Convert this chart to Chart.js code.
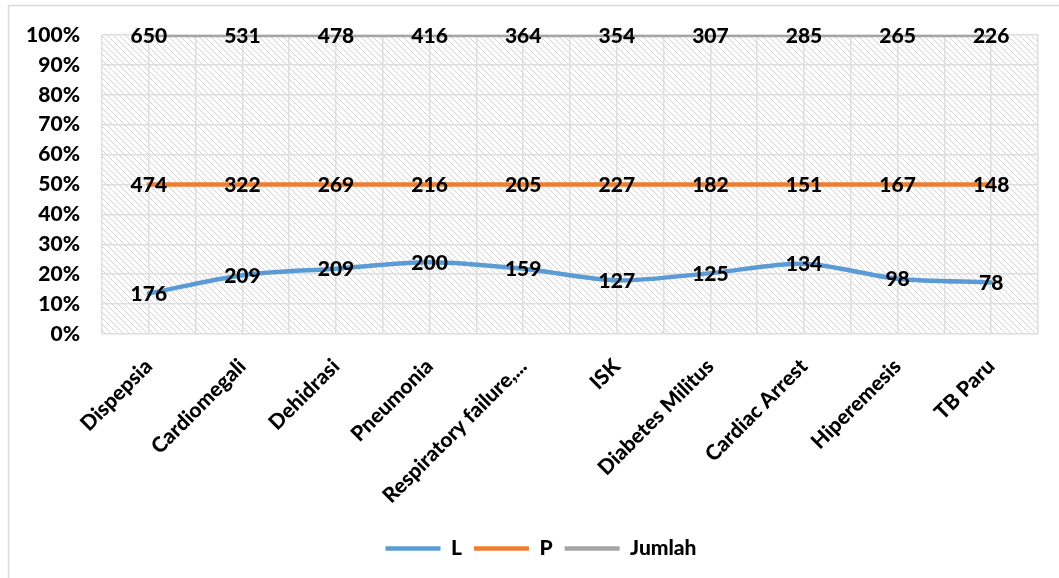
<!DOCTYPE html>
<html>
<head>
<meta charset="utf-8">
<script src="https://cdn.jsdelivr.net/npm/chart.js@4"></script>
<style>
  body { margin: 0; background: #fff; }
  #wrap { width: 1059px; height: 578px; position: relative; }
</style>
</head>
<body>
<div id="wrap"><canvas id="diagChart"></canvas></div>
<script>
// data
const categories = ['Dispepsia', 'Cardiomegali', 'Dehidrasi', 'Pneumonia', 'Respiratory failure,...',
  'ISK', 'Diabetes Militus', 'Cardiac Arrest', 'Hiperemesis', 'TB Paru'];
const lakiLaki = [176, 209, 209, 200, 159, 127, 125, 134, 98, 78];
const perempuan = [474, 322, 269, 216, 205, 227, 182, 151, 167, 148];
const jumlah = [650, 531, 478, 416, 364, 354, 307, 285, 265, 226];
const yTicks = [0, 10, 20, 30, 40, 50, 60, 70, 80, 90, 100];

// 100% stacked: every series as a share of the column total
const totals = categories.map((c, i) => lakiLaki[i] + perempuan[i] + jumlah[i]);
const share = arr => arr.map((v, i) => v / totals[i] * 100);

const FONT = 'Lato, "Open Sans", sans-serif';

// diagonal hatch for the plot area
function makeHatch() {
  const t = document.createElement('canvas');
  t.width = 6; t.height = 6;
  const c = t.getContext('2d');
  c.fillStyle = '#fff';
  c.fillRect(0, 0, 6, 6);
  c.strokeStyle = '#d4d4d4';
  c.lineWidth = 1;
  c.beginPath();
  c.moveTo(-1, -1); c.lineTo(7, 7);
  c.moveTo(-1, 5); c.lineTo(1, 7);
  c.moveTo(5, -1); c.lineTo(7, 1);
  c.stroke();
  return c.createPattern(t, 'repeat');
}

const backdrop = {
  id: 'backdrop',
  afterLayout(chart) {
    // legend sits a little right of centre in the original
    chart.legend.left += 18;
    chart.legend.right += 18;
  },
  beforeDraw(chart) {
    const { ctx, chartArea: a } = chart;
    ctx.save();
    // outer chart frame (only top and left visible in the crop)
    ctx.strokeStyle = '#d9d9d9';
    ctx.lineWidth = 1.5;
    ctx.beginPath();
    ctx.moveTo(8.5, 600); ctx.lineTo(8.5, 5.5); ctx.lineTo(1100, 5.5);
    ctx.stroke();
    ctx.fillStyle = makeHatch();
    ctx.fillRect(a.left, a.top, a.right - a.left, a.bottom - a.top);
    ctx.restore();
  }
};

// raw counts written on top of each point
const valueLabels = {
  id: 'valueLabels',
  afterDatasetsDraw(chart) {
    const { ctx } = chart;
    ctx.save();
    ctx.font = '900 21px ' + FONT;
    ctx.fillStyle = '#000';
    ctx.textAlign = 'center';
    ctx.textBaseline = 'middle';
    chart.data.datasets.forEach((ds, di) => {
      chart.getDatasetMeta(di).data.forEach((pt, i) => {
        ctx.fillText(String(ds.raw[i]), pt.x, pt.y + 1);
      });
    });
    ctx.restore();
  }
};

const tickFont = { family: FONT, size: 21, weight: '900' };

new Chart(document.getElementById('diagChart'), {
  type: 'line',
  data: {
    labels: categories,
    datasets: [
      { label: 'L', raw: lakiLaki, data: share(lakiLaki), borderColor: '#5b9bd5', backgroundColor: '#5b9bd5' },
      { label: 'P', raw: perempuan, data: share(perempuan), borderColor: '#ed7d31', backgroundColor: '#ed7d31' },
      { label: 'Jumlah', raw: jumlah, data: share(jumlah), borderColor: '#a5a5a5', backgroundColor: '#a5a5a5' }
    ].map(d => Object.assign(d, {
      borderWidth: 4.5, pointRadius: 0, tension: 0.3, fill: false,
      borderCapStyle: 'round', pointStyle: 'line'
    }))
  },
  options: {
    responsive: true,
    maintainAspectRatio: false,
    animation: false,
    layout: { padding: { left: 8, top: 35, right: 21, bottom: 9 } },
    scales: {
      x: {
        type: 'category',
        offset: true,
        grid: { display: false },
        border: { display: false },
        ticks: {
          maxRotation: 45, minRotation: 45, autoSkip: false, padding: 12,
          color: '#000', font: tickFont
        },
        afterFit(s) { s.height = 192; }
      },
      xg: {
        type: 'linear', position: 'bottom', min: 0, max: 20,
        ticks: { display: false, stepSize: 1 },
        grid: { color: '#dedede', lineWidth: 1.5, drawTicks: false },
        border: { display: false },
        afterFit(s) { s.height = 0; }
      },
      y: {
        stacked: true,
        min: 0, max: 100,
        afterBuildTicks(s) { s.ticks = yTicks.map(v => ({ value: v })); },
        ticks: {
          padding: 22, color: '#000', font: tickFont,
          callback: v => v + '%'
        },
        grid: { color: '#dedede', lineWidth: 1.5, drawTicks: false },
        border: { display: false },
        afterFit(s) { s.width = 94; }
      }
    },
    plugins: {
      legend: {
        position: 'bottom',
        labels: {
          usePointStyle: true, pointStyleWidth: 55, padding: 12,
          color: '#000', font: tickFont
        }
      },
      tooltip: { enabled: false }
    }
  },
  plugins: [backdrop, valueLabels]
});
</script>
</body>
</html>
